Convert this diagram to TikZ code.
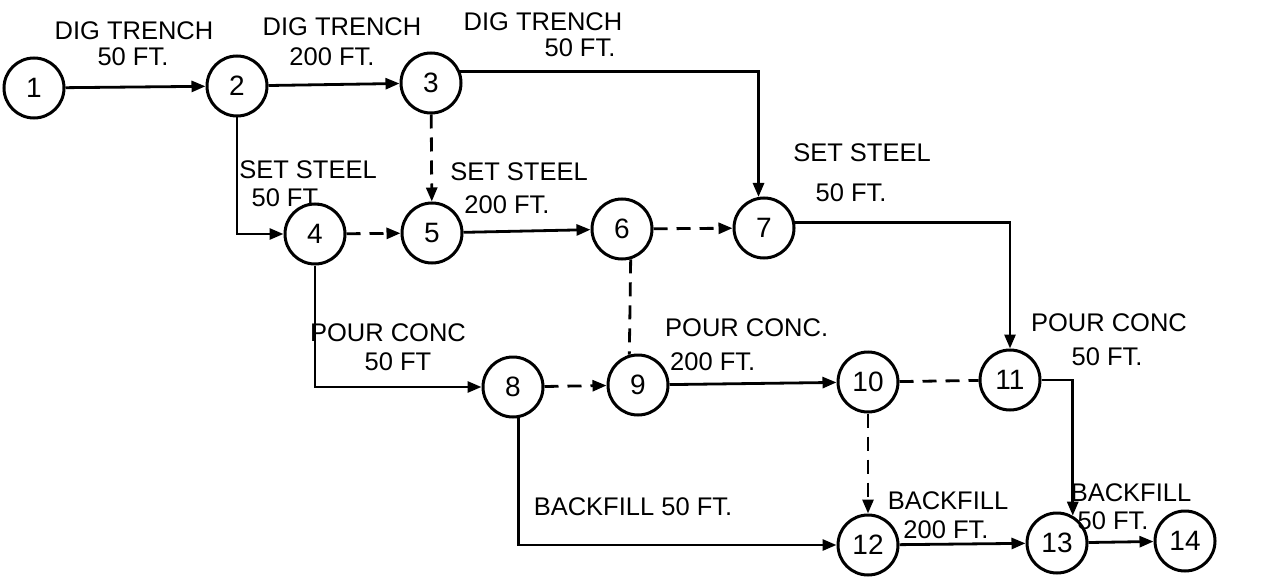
\documentclass[tikz,border=0pt]{standalone}
\usepackage{fontspec}
\setmainfont{Liberation Sans}
\usetikzlibrary{arrows.meta}
\begin{document}
\begin{tikzpicture}[x=1pt,y=-1pt,
 ev/.style={circle,draw,line width=3pt,minimum size=60pt,inner sep=0pt,font=\fontsize{28}{28}\selectfont},
 lab/.style={inner sep=0pt,font=\fontsize{25.5}{25.5}\selectfont},
 act/.style={line width=2.8pt,-{Triangle[length=14pt,width=11pt]}},
 dum/.style={act,dash pattern=on 14pt off 9pt},
 dumn/.style={line width=2.8pt,dash pattern=on 14pt off 9pt}]
\useasboundingbox (0,0) rectangle (1263,580);
% events
\node[ev] (n1) at (34,88) {1};
\node[ev] (n2) at (237,86) {2};
\node[ev] (n3) at (431,83) {3};
\node[ev] (n4) at (315,234) {4};
\node[ev] (n5) at (432,233) {5};
\node[ev] (n6) at (622,229) {6};
\node[ev] (n7) at (764,228) {7};
\node[ev] (n8) at (513,387) {8};
\node[ev] (n9) at (638,385) {9};
\node[ev] (n10) at (868,382) {10};
\node[ev] (n11) at (1010,380) {11};
\node[ev] (n12) at (868,545) {12};
\node[ev] (n13) at (1057,543) {13};
\node[ev] (n14) at (1185,541) {14};
% activities
\draw[act] (n1) -- (n2);
\draw[act] (n2) -- (n3);
\draw[act] (n3.22) -| (n7.100);
\draw[dum] (n3) -- (n5);
\draw[act] (n2.south) |- (n4);
\draw[dum] (n4) -- (n5);
\draw[act] (n5) -- (n6);
\draw[dum] (n6) -- (n7);
\draw[dumn] (n6.-74) -- (n9.106);
\draw[act] (n4.south) |- (n8);
\draw[dum] (n8) -- (n9);
\draw[act] (n9) -- (n10);
\draw[dumn] (n10) -- (n11);
\draw[act] (n7.10) -| (n11.north);
\draw[act] (n11.east) -| (n13.60);
\draw[dum] (n10) -- (n12);
\draw[act] (n8.-80) |- (n12);
\draw[act] (n12) -- (n13);
\draw[act] (n13) -- (n14);
% labels
\node[lab] (l1a) at (134,31) {DIG TRENCH};
\node[lab] (l1b) at (133,57) {50 FT.};
\node[lab] (l2a) at (342,27) {DIG TRENCH};
\node[lab] (l2b) at (332,57) {200 FT.};
\node[lab] (l3a) at (543,22) {DIG TRENCH};
\node[lab] (l3b) at (580,48) {50 FT.};
\node[lab] (l4a) at (308,170) {SET STEEL};
\node[lab] (l4b) at (287,198) {50 FT.};
\node[lab] (l5a) at (519,172) {SET STEEL};
\node[lab] (l5b) at (507,205) {200 FT.};
\node[lab] (l6a) at (862,153) {SET STEEL};
\node[lab] (l6b) at (851,193) {50 FT.};
\node[lab] (l7a) at (388,333) {POUR CONC};
\node[lab] (l7b) at (398,362) {50 FT};
\node[lab,anchor=west] (l8a) at (665,328) {POUR CONC.};
\node[lab,anchor=west] (l8b) at (670,362) {200 FT.};
\node[lab] (l9a) at (1109,323) {POUR CONC};
\node[lab] (l9b) at (1107,357) {50 FT.};
\node[lab] (l10) at (633,507) {BACKFILL 50 FT.};
\node[lab] (l11a) at (948,501) {BACKFILL};
\node[lab] (l11b) at (946,530) {200 FT.};
\node[lab] (l12a) at (1131,493) {BACKFILL};
\node[lab] (l12b) at (1113,521) {50 FT.};
\end{tikzpicture}
\end{document}
